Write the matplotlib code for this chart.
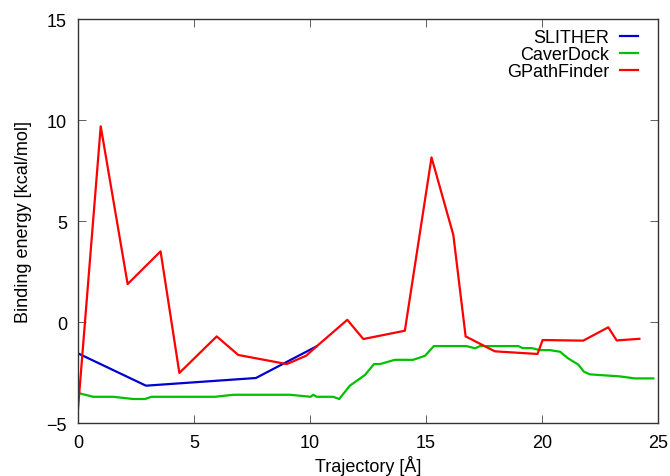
import matplotlib
matplotlib.use('Agg')
import matplotlib.pyplot as plt

plt.rcParams['font.family'] = ['Liberation Sans', 'DejaVu Sans']

# SLITHER
slither_x = [0.0, 2.93, 7.67, 10.29]
slither_y = [-1.55, -3.15, -2.77, -1.2]

# CaverDock
caver_x = [0.0, 0.66, 1.52, 2.38, 2.89, 3.17, 5.9, 6.7, 9.14, 10.03, 10.14, 10.29,
           11.0, 11.26, 11.72, 12.37, 12.76, 13.02, 13.66, 14.45, 14.96, 15.34,
           16.75, 17.11, 17.33, 18.98, 19.17, 19.56, 19.91, 20.34, 20.78, 21.13,
           21.57, 21.81, 22.07, 23.36, 24.0, 24.8]
caver_y = [-3.51, -3.7, -3.7, -3.81, -3.81, -3.7, -3.7, -3.6, -3.6, -3.7, -3.6, -3.7,
           -3.7, -3.81, -3.15, -2.62, -2.08, -2.08, -1.87, -1.87, -1.67, -1.19,
           -1.19, -1.3, -1.19, -1.19, -1.29, -1.29, -1.39, -1.39, -1.47, -1.8,
           -2.11, -2.46, -2.59, -2.69, -2.79, -2.79]

# GPathFinder
gpath_x = [0.0, 0.98, 2.14, 3.56, 4.37, 5.98, 6.91, 9.0, 9.83, 10.29, 11.61, 12.3,
           14.09, 15.24, 16.18, 16.71, 17.97, 19.81, 20.03, 21.78, 22.86, 23.22, 24.2]
gpath_y = [-4.3, 9.69, 1.88, 3.5, -2.52, -0.71, -1.63, -2.08, -1.67, -1.2, 0.11, -0.84,
           -0.43, 8.15, 4.31, -0.71, -1.45, -1.58, -0.89, -0.92, -0.26, -0.91, -0.83]

fig = plt.figure(figsize=(6.7, 4.77), dpi=100)
ax = fig.add_axes([0.1164, 0.111, 0.8656, 0.847])

ax.plot(slither_x, slither_y, color='#0000d0', lw=1.6, label='SLITHER')
ax.plot(caver_x, caver_y, color='#00c000', lw=1.6, label='CaverDock')
ax.plot(gpath_x, gpath_y, color='#ff0000', lw=1.6, label='GPathFinder')

ax.set_xlim(0, 25)
ax.set_ylim(-5, 15)
ax.set_xticks([0, 5, 10, 15, 20, 25])
ax.set_yticks([-5, 0, 5, 10, 15])
ax.tick_params(direction='in', top=True, right=True, labelsize=13, length=6,
               width=0.6, color='#444444', pad=8)
for s in ax.spines.values():
    s.set_linewidth(1.0)
    s.set_color('#333333')

ax.set_xlabel('Trajectory [Å]', fontsize=13, labelpad=3)
ax.set_ylabel('Binding energy [kcal/mol]', fontsize=13, labelpad=10)

ax.legend(loc='upper right', bbox_to_anchor=(0.966, 0.975), frameon=False,
          markerfirst=False, fontsize=13, handlelength=1.0, handletextpad=0.6,
          labelspacing=0.0, borderaxespad=0.0, borderpad=0.0)
leg = ax.get_legend()
for t in leg.get_texts():
    t.set_ha('right')

fig.savefig('out.png', dpi=100)
